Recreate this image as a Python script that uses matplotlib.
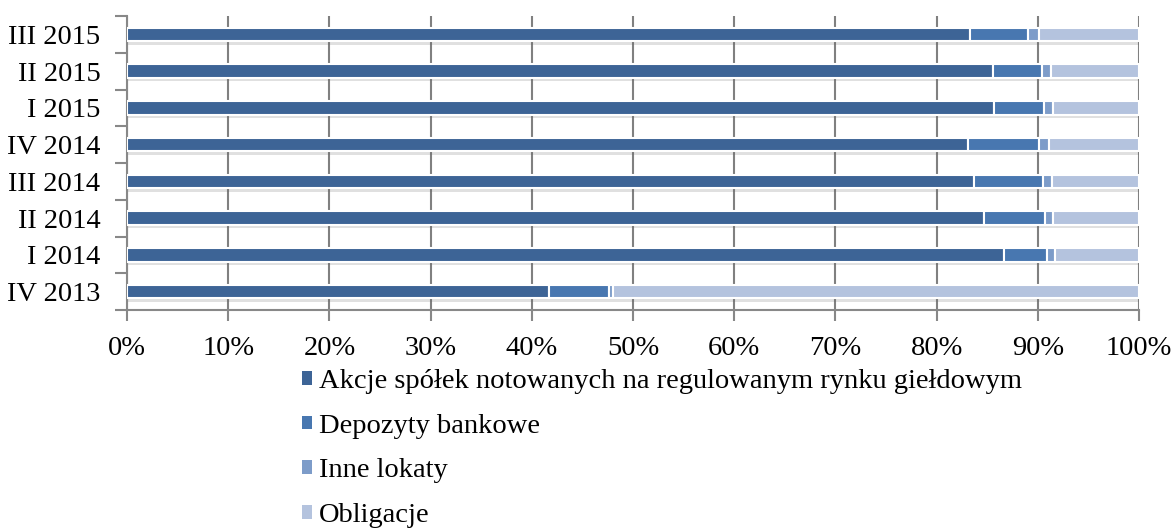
import matplotlib
matplotlib.use("Agg")
import matplotlib.pyplot as plt
import matplotlib.patheffects as pe
from matplotlib.patches import Patch
import numpy as np

plt.rcParams['font.family'] = ['Liberation Serif', 'DejaVu Serif']

categories = ["IV 2013", "I 2014", "II 2014", "III 2014", "IV 2014", "I 2015", "II 2015", "III 2015"]
akcje = [41.7, 86.7, 84.7, 83.7, 83.1, 85.7, 85.6, 83.3]
depozyty = [5.9, 4.2, 6.0, 6.8, 7.0, 4.9, 4.8, 5.7]
inne = [0.4, 0.8, 0.8, 0.9, 1.0, 0.9, 0.9, 1.1]
obligacje = [52.0, 8.3, 8.5, 8.6, 8.9, 8.5, 8.7, 9.9]
series_names = ["Akcje spółek notowanych na regulowanym rynku giełdowym",
                "Depozyty bankowe", "Inne lokaty", "Obligacje"]
colors = ["#3D6496", "#4877B0", "#7D9CC9", "#B4C3DE"]
xticks = [0, 10, 20, 30, 40, 50, 60, 70, 80, 90, 100]
xticklabels = ["%d%%" % v for v in xticks]

FS = 20.5
fig = plt.figure(figsize=(11.76, 5.31), dpi=100)
ax = fig.add_axes([127/1176, 1-310/531, (1139-127)/1176, (310-16)/531])

y = np.arange(len(categories))
left = np.zeros(len(categories))
shadow = [pe.SimplePatchShadow(offset=(0.5, -2.5), shadow_rgbFace='#666666', alpha=0.2), pe.Normal()]
for vals, col, name in zip([akcje, depozyty, inne, obligacje], colors, series_names):
    bars = ax.barh(y, vals, left=left, height=0.37, color=col, edgecolor='white',
                   linewidth=1.5, label=name, zorder=3)
    for b in bars:
        b.set_path_effects(shadow)
    left = left + np.array(vals)

ax.set_xlim(0, 100)
ax.set_ylim(-0.5, len(categories) - 0.5)
ax.set_xticks(xticks)
ax.set_xticklabels(xticklabels, fontsize=FS)
ax.set_yticks(y)
ax.set_yticklabels(categories, fontsize=FS)
ax.tick_params(axis='y', length=0, pad=19)
ax.set_yticks(np.arange(-0.5, len(categories), 1.0), minor=True)
ax.tick_params(axis='y', which='minor', length=9, width=1.5, color='#888888', direction='out')
ax.tick_params(axis='x', length=8, width=1.5, color='#888888', direction='out', pad=11)
ax.grid(axis='x', color='#808080', linewidth=1.5, zorder=0)
ax.set_axisbelow(True)
for s in ['top', 'right']:
    ax.spines[s].set_visible(False)
for s in ['left', 'bottom']:
    ax.spines[s].set_color('#888888')
    ax.spines[s].set_linewidth(1.5)

handles = [Patch(facecolor=c, edgecolor='none') for c in colors]
fig.legend(handles, series_names, loc='upper left', bbox_to_anchor=(302/1176, 1-369/531),
           frameon=False, fontsize=FS, handlelength=0.36, handleheight=0.36,
           handletextpad=0.25, labelspacing=0.69, borderaxespad=0, borderpad=0)

fig.savefig("out.png", dpi=100)
